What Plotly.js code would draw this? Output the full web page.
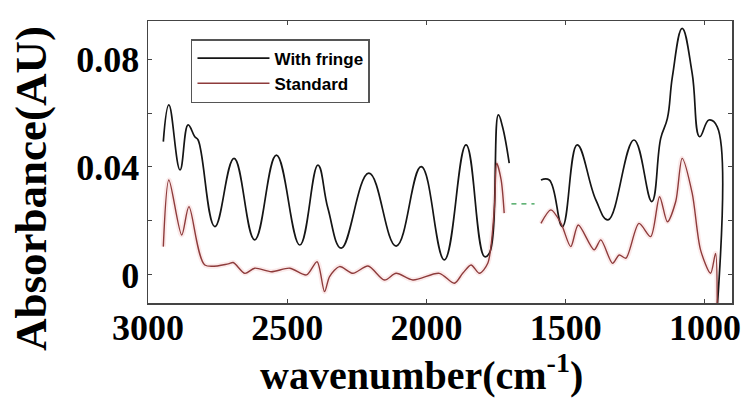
<!DOCTYPE html>
<html>
<head>
<meta charset="utf-8">
<script src="https://cdn.plot.ly/plotly-3.0.1.min.js"></script>
<style>html,body{margin:0;padding:0;background:#fff;}#chart{width:742px;height:398px;}</style>
</head>
<body>
<div id="chart"></div>
<script>
// Wavenumber (cm^-1) and absorbance (AU)
const fringeWn  = [2945, 2925, 2885, 2856, 2832, 2820, 2760, 2691, 2617, 2539, 2455, 2390, 2354, 2306, 2207, 2109, 2019, 1936, 1858, 1792, 1774, 1742, 1727, 1703, null, 1589, 1559, 1512, 1459, 1392, 1348, 1255, 1191, 1159, 1135, 1117, 1082, 1046, 1019, 986, 956, 956];
const fringeAbs = [0.0494, 0.0630, 0.0389, 0.0556, 0.0512, 0.0500, 0.0179, 0.0432, 0.0130, 0.0444, 0.0111, 0.0407, 0.0247, 0.0099, 0.0377, 0.0107, 0.0401, 0.0056, 0.0482, 0.0068, 0.0081, 0.0593, 0.0549, 0.0414, null, 0.0352, 0.0352, 0.0179, 0.0482, 0.0278, 0.0204, 0.0500, 0.0272, 0.0506, 0.0580, 0.0735, 0.0914, 0.0747, 0.0512, 0.0574, 0.0549, -0.012];

const standardWn  = [2945, 2925, 2879, 2853, 2796, 2712, 2694, 2652, 2617, 2557, 2491, 2431, 2393, 2366, 2348, 2312, 2264, 2210, 2151, 2109, 2049, 1954, 1900, 1870, 1840, 1810, 1780, 1756, 1748, 1732, 1721, null, 1589, 1553, 1517, 1482, 1455, 1398, 1374, 1332, 1308, 1284, 1237, 1195, 1163, 1135, 1105, 1082, 1046, 1016, 980, 962, 956];
const standardAbs = [0.0105, 0.0352, 0.0148, 0.0253, 0.0037, 0.0041, 0.0046, 0.0006, 0.0025, 0.0012, 0.0025, 0.0000, 0.0049, -0.0062, -0.0006, 0.0031, 0.0006, 0.0033, -0.0019, 0.0006, -0.0019, 0.0006, -0.0031, 0.0006, 0.0037, 0.0006, 0.0043, 0.0253, 0.0414, 0.0352, 0.0229, null, 0.0191, 0.0241, 0.0191, 0.0105, 0.0185, 0.0093, 0.0130, 0.0043, 0.0074, 0.0062, 0.0191, 0.0142, 0.0290, 0.0197, 0.0272, 0.0432, 0.0303, 0.0093, 0.0006, 0.0080, -0.012];

// dashed bridge across the removed band
const bridgeWn  = [1695, 1612];
const bridgeAbs = [0.0263, 0.0263];

const yTickVals = [0, 0.04, 0.08];
const yTickText = ["0", "0.04", "0.08"];
const xTickVals = [3000, 2500, 2000, 1500, 1000];
const xTickText = ["3000", "2500", "2000", "1500", "1000"];
const xTitle = "wavenumber(cm<sup>-1</sup>)";
const yTitle = "Absorbance(AU)";

const serif = "Liberation Serif, Times New Roman, serif";

const traces = [
  {x: standardWn, y: standardAbs, mode: "lines", showlegend: false, hoverinfo: "skip",
   line: {color: "rgba(235,140,140,0.18)", width: 5, shape: "spline", smoothing: 0.8}},
  {x: fringeWn, y: fringeAbs, mode: "lines", name: "With fringe",
   line: {color: "#151515", width: 1.7, shape: "spline", smoothing: 1.2}},
  {x: standardWn, y: standardAbs, mode: "lines", name: "Standard",
   line: {color: "#8e3b3b", width: 1.4, shape: "spline", smoothing: 0.8}},
  {x: bridgeWn, y: bridgeAbs, mode: "lines", showlegend: false,
   line: {color: "#2e9a4a", width: 1.3, dash: "5px,5px"}}
];

const layout = {
  width: 742, height: 398,
  margin: {l: 148, r: 10, t: 21, b: 95},
  paper_bgcolor: "#fff", plot_bgcolor: "#fff",
  showlegend: true,
  legend: {x: 0.0736, y: 0.936, xanchor: "left", yanchor: "top",
    bgcolor: "#fff", bordercolor: "#555", borderwidth: 1.5,
    font: {family: "Liberation Sans, Arial, sans-serif", size: 17, color: "#000", weight: 700},
    itemwidth: 72, tracegroupgap: 0},
  xaxis: {
    range: [3000, 903], autorange: false,
    tickmode: "array", tickvals: xTickVals, ticktext: xTickText,
    ticks: "inside", ticklen: 4, tickcolor: "#444", mirror: "ticks",
    showline: true, linecolor: "#444", linewidth: 1.5, showgrid: false, zeroline: false,
    ticklabelstandoff: -8,
    tickfont: {family: serif, size: 36, color: "#000", weight: 700}
  },
  yaxis: {
    range: [-0.0104, 0.0941], autorange: false,
    tickmode: "array", tickvals: yTickVals, ticktext: yTickText,
    ticks: "inside", ticklen: 4, tickcolor: "#444", mirror: "ticks",
    minor: {dtick: 0.02, tick0: 0, ticks: "inside", ticklen: 4, tickcolor: "#444", showgrid: false},
    showline: true, linecolor: "#444", linewidth: 1.5, showgrid: false, zeroline: false,
    tickfont: {family: serif, size: 36, color: "#000", weight: 700}
  },
  annotations: [
    {text: xTitle, xref: "paper", yref: "paper", x: 0.4675, y: -0.245, xanchor: "center", yanchor: "middle",
     showarrow: false, font: {family: serif, size: 40, color: "#000", weight: 700}},
    {text: yTitle, xref: "paper", yref: "paper", x: -0.2003, y: 0.404, xanchor: "center", yanchor: "middle",
     textangle: -90, showarrow: false, font: {family: serif, size: 45, color: "#000", weight: 700}}
  ]
};

Plotly.newPlot("chart", traces, layout, {displayModeBar: false, staticPlot: true});
</script>
</body>
</html>
